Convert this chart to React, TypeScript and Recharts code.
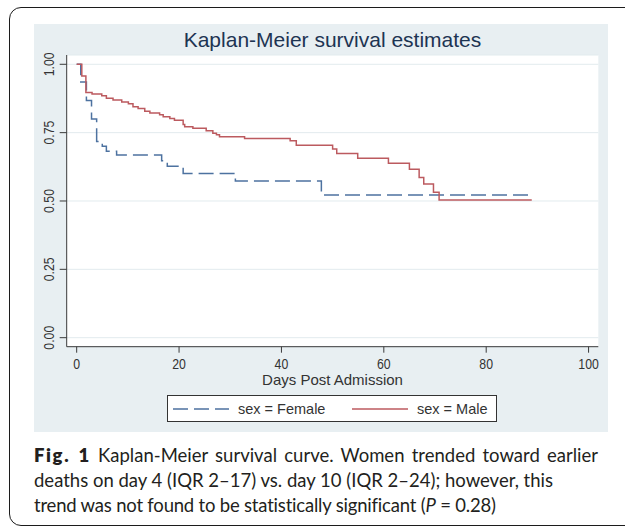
import React from 'react';
import { LineChart, Line, XAxis, YAxis, CartesianGrid } from 'recharts';

// Kaplan-Meier steps (day, survival)
const femaleDays = [0, 0.8, 1.9, 2.9, 3.9, 5.0, 5.8, 7.8, 16.6, 17.7, 20.8, 31.0, 47.8, 88.9];
const femaleSurv = [1, 0.935, 0.868, 0.8, 0.718, 0.7, 0.682, 0.668, 0.647, 0.627, 0.601, 0.573, 0.522, 0.522];

const maleDays = [
  0, 1.0, 1.8, 3.0, 4.9, 5.8, 7.1, 8.8, 10.1, 11.0, 12.0, 13.3, 14.3, 16.2, 16.9, 18.2, 19.1, 20.8, 21.1,
  22.7, 25.3, 26.6, 27.3, 27.9, 32.8, 41.7, 42.9, 50.0, 50.8, 54.9, 60.9, 65.0, 66.9, 67.8, 69.7, 70.8, 88.9,
];
const maleSurv = [
  1, 0.957, 0.897, 0.891, 0.885, 0.876, 0.869, 0.862, 0.856, 0.845, 0.838, 0.828, 0.822, 0.815, 0.808, 0.802,
  0.795, 0.78, 0.772, 0.766, 0.757, 0.748, 0.742, 0.735, 0.729, 0.72, 0.704, 0.69, 0.674, 0.656, 0.638, 0.616,
  0.586, 0.562, 0.532, 0.504, 0.504,
];

const xTicks = [0, 20, 40, 60, 80, 100];
const yTicks = [0, 0.25, 0.5, 0.75, 1];

const seriesNames = ['sex = Female', 'sex = Male'];
const captionLines = [
  'Kaplan-Meier survival curve. Women trended toward earlier',
  'deaths on day 4 (IQR 2\u201317) vs. day 10 (IQR 2\u201324); however, this',
  'trend was not found to be statistically significant (',
];

const femaleData = femaleDays.map((d, i) => ({ day: d, surv: femaleSurv[i] }));
const maleData = maleDays.map((d, i) => ({ day: d, surv: maleSurv[i] }));

const BLUE = '#4d72a0';
const RED = '#bc5a5f';
const AXIS = '#3a3a3a';
const FONT = "'Liberation Sans', Arial, sans-serif";

const XTick = ({ x, y, payload }: any) => (
  <text transform={`translate(${x},${y}) scale(0.82,1)`} textAnchor="middle" dy="0.71em" fontSize={15} fontFamily={FONT} fill="#333">
    {payload.value}
  </text>
);

const YTick = ({ x, y, payload }: any) => (
  <text transform={`translate(${x - 6},${y}) rotate(-90) scale(0.82,1)`} textAnchor="middle" fontSize={15} fontFamily={FONT} fill="#333">
    {Number(payload.value).toFixed(2)}
  </text>
);

export default function App() {
  return (
    <div style={{ position: 'absolute', left: 0, top: 0, width: 625, height: 529, overflow: 'hidden', background: '#fff' }}>
      <div
        style={{
          position: 'absolute', left: 9, top: 7, width: 640, height: 519,
          border: '1.5px solid #1c1c1c', borderRadius: 12, boxSizing: 'border-box',
        }}
      />
      <div style={{ position: 'absolute', left: 34, top: 24, width: 574, height: 408, background: '#e8eff2' }} />

      <div
        style={{
          position: 'absolute', left: 57, width: 551, top: 28, lineHeight: '24px', textAlign: 'center',
          fontFamily: FONT, fontSize: 21, color: '#1d3452',
        }}
      >
        Kaplan-Meier survival estimates
      </div>

      <div style={{ position: 'absolute', left: 0, top: 0 }}>
        <LineChart width={625} height={440} margin={{ top: 55, right: 26.7, bottom: 53.3, left: 26.7 }}>
          <CartesianGrid vertical={false} stroke="#e2ebee" fill="#ffffff" />
          <XAxis
            type="number"
            dataKey="day"
            domain={[-1.95, 101.9]}
            ticks={xTicks}
            allowDataOverflow
            height={40}
            tickSize={6}
            tickMargin={6}
            stroke={AXIS}
            tick={<XTick />}
            label={{ value: 'Days Post Admission', position: 'insideBottom', offset: 2, fontSize: 15, fontFamily: FONT, fill: '#333' }}
          />
          <YAxis
            type="number"
            domain={[-0.033, 1.034]}
            ticks={yTicks}
            allowDataOverflow
            width={40}
            tickSize={7}
            tickMargin={0}
            stroke={AXIS}
            tick={<YTick />}
          />
          <Line
            data={femaleData}
            dataKey="surv"
            type="stepAfter"
            stroke={BLUE}
            strokeWidth={1.5}
            strokeDasharray="15 6"
            dot={false}
            activeDot={false}
            isAnimationActive={false}
          />
          <Line
            data={maleData}
            dataKey="surv"
            type="stepAfter"
            stroke={RED}
            strokeWidth={1.5}
            dot={false}
            activeDot={false}
            isAnimationActive={false}
          />
        </LineChart>
      </div>

      <div
        style={{
          position: 'absolute', left: 167, top: 395, width: 330, height: 27, boxSizing: 'border-box',
          border: '1px solid #333', background: '#fff', fontFamily: FONT, fontSize: 14.5, color: '#333',
        }}
      >
        <svg width={60} height={10} style={{ position: 'absolute', left: 5, top: 8 }}>
          <line x1={0} y1={5} x2={56} y2={5} stroke={BLUE} strokeWidth={1.5} strokeDasharray="15 6" />
        </svg>
        <span style={{ position: 'absolute', left: 70, top: 4, lineHeight: '18px' }}>{seriesNames[0]}</span>
        <svg width={60} height={10} style={{ position: 'absolute', left: 184, top: 8 }}>
          <line x1={0} y1={5} x2={56} y2={5} stroke={RED} strokeWidth={1.5} />
        </svg>
        <span style={{ position: 'absolute', left: 249, top: 4, lineHeight: '18px' }}>{seriesNames[1]}</span>
      </div>

      <div
        style={{
          position: 'absolute', left: 34, top: 443, width: 600, fontFamily: "Lato, 'Open Sans', sans-serif",
          fontSize: 18.5, lineHeight: '25px', color: '#231f20', whiteSpace: 'nowrap',
        }}
      >
        <div style={{ wordSpacing: 2.5 }}>
          <b style={{ fontWeight: 800, letterSpacing: 1.6 }}>Fig. 1</b> {captionLines[0]}
        </div>
        <div>{captionLines[1]}</div>
        <div style={{ letterSpacing: -0.2 }}>{captionLines[2]}<i>P</i>{' = 0.28)'}</div>
      </div>
    </div>
  );
}
